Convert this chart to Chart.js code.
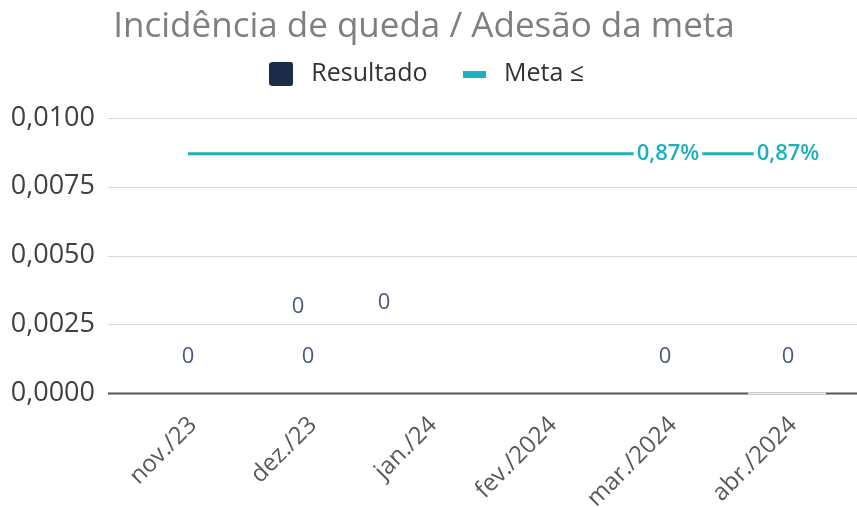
<!DOCTYPE html>
<html>
<head>
<meta charset="utf-8">
<script src="https://cdn.jsdelivr.net/npm/chart.js@4/dist/chart.umd.min.js"></script>
<style>
  html, body { margin: 0; padding: 0; background: #fff; }
  #wrap { width: 857px; height: 507px; }
</style>
</head>
<body>
<div id="wrap"><canvas id="chart" width="857" height="507"></canvas></div>
<script>
// dados
const categorias = ['nov./23', 'dez./23', 'jan./24', 'fev./2024', 'mar./2024', 'abr./2024'];
const resultado = [0, 0, 0, 0, 0, 0];
const meta = [0.0087, 0.0087, 0.0087, 0.0087, 0.0087, 0.0087];
const yTicks = [0, 0.0025, 0.005, 0.0075, 0.01];

const NAVY = '#1c2b48';
const TEAL = '#1cb0bd';
const FONT = "'Open Sans', sans-serif";

// marcadores da legenda
function marker(w, h, draw) {
  const c = document.createElement('canvas');
  c.width = w; c.height = h;
  draw(c.getContext('2d'));
  return c;
}
const boxResultado = marker(24, 24, g => { g.fillStyle = NAVY; g.beginPath(); g.roundRect(0, 0, 24, 24, 3); g.fill(); });
const boxMeta = marker(23, 7, g => { g.fillStyle = TEAL; g.fillRect(0, 0, 23, 7); });

// rótulos "0" do Resultado (deslocamentos por categoria)
const rotulosZero = [[[0, -36]], [[0, -36], [-10, -86]], [[-44, -90]], [], [[-3, -36]], [[0, -36]]];

const labelsPlugin = {
  id: 'rotulos',
  afterDatasetsDraw(chart) {
    const { ctx, scales: { x, y } } = chart;
    ctx.save();
    ctx.textAlign = 'center';
    ctx.textBaseline = 'middle';
    // Resultado
    ctx.font = '22px ' + FONT;
    ctx.fillStyle = '#4a5a78';
    resultado.forEach((v, i) => {
      rotulosZero[i].forEach(([dx, dy]) => {
        ctx.fillText(String(v), x.getPixelForValue(i) + dx, y.getPixelForValue(v) + dy);
      });
    });
    // Meta: só os dois últimos
    ctx.font = '600 22px ' + FONT;
    [4, 5].forEach(i => {
      const txt = (meta[i] * 100).toFixed(2).replace('.', ',') + '%';
      const px = x.getPixelForValue(i), py = y.getPixelForValue(meta[i]);
      const w = ctx.measureText(txt).width;
      ctx.fillStyle = '#fff';
      ctx.fillRect(px - w / 2 - 3, py - 11, w + 6, 22);
      ctx.fillStyle = TEAL;
      ctx.fillText(txt, px, py);
    });
    ctx.restore();
  }
};

// linhas de grade até a borda direita
const gradePlugin = {
  id: 'grade',
  beforeDatasetsDraw(chart) {
    const { ctx, scales: { x, y }, chartArea } = chart;
    ctx.save();
    yTicks.forEach(t => {
      const py = Math.round(y.getPixelForValue(t)) + 0.5;
      ctx.strokeStyle = t === 0 ? '#555' : '#d9d9d9';
      ctx.lineWidth = t === 0 ? 2 : 1;
      ctx.beginPath();
      ctx.moveTo(chartArea.left - 20, py);
      ctx.lineTo(chart.width, py);
      ctx.stroke();
    });
    // a última barra (valor 0) cobre a linha de base em branco
    const bar = chart.getDatasetMeta(1).data[resultado.length - 1];
    if (bar) {
      const py = Math.round(y.getPixelForValue(0)) + 0.5;
      ctx.strokeStyle = '#eeeeee';
      ctx.lineWidth = 2;
      ctx.beginPath();
      ctx.moveTo(bar.x - 40, py);
      ctx.lineTo(bar.x + 38, py);
      ctx.stroke();
    }
    ctx.restore();
  }
};

new Chart(document.getElementById('chart').getContext('2d'), {
  data: {
    labels: categorias,
    datasets: [
      {
        type: 'line',
        label: 'Meta ≤',
        data: meta,
        borderColor: TEAL,
        backgroundColor: TEAL,
        borderWidth: 3,
        pointRadius: 0,
        order: 0
      },
      {
        type: 'bar',
        label: 'Resultado',
        data: resultado,
        backgroundColor: NAVY,
        order: 1
      }
    ]
  },
  options: {
    responsive: false,
    animation: false,
    layout: { padding: { left: 0, right: 9, top: 0, bottom: 0 } },
    scales: {
      x: {
        grid: { display: false, drawTicks: false },
        border: { display: false },
        afterFit: s => { s.height = 114; },
        ticks: {
          color: '#595959',
          font: { family: FONT, size: 24 },
          maxRotation: 45,
          minRotation: 45,
          padding: 18,
          labelOffset: 5
        }
      },
      y: {
        min: 0,
        max: 0.01,
        afterBuildTicks: s => { s.ticks = yTicks.map(v => ({ value: v })); },
        afterFit: s => { s.width = 128; },
        grid: { display: false, drawTicks: false },
        border: { display: false },
        ticks: {
          color: '#404040',
          padding: 33,
          font: { family: FONT, size: 27 },
          callback: v => Number(v).toFixed(4).replace('.', ',')
        }
      }
    },
    plugins: {
      title: {
        display: true,
        text: 'Incidência de queda / Adesão da meta',
        color: '#7f7f7f',
        font: { family: FONT, size: 35, weight: 'normal' },
        padding: { top: 6, bottom: -15.5 }
      },
      subtitle: {
        // espaço vazio entre a legenda e o gráfico
        display: true,
        text: ' ',
        weight: 500,
        font: { size: 10 },
        padding: { top: 0, bottom: 9.5 }
      },
      legend: {
        labels: {
          color: '#333',
          font: { family: FONT, size: 25 },
          usePointStyle: true,
          pointStyleWidth: 35,
          padding: 29,
          generateLabels: chart => [
            { text: 'Resultado', pointStyle: boxResultado, datasetIndex: 1, fontColor: '#333', lineWidth: 0, strokeStyle: 'transparent' },
            { text: 'Meta ≤', pointStyle: boxMeta, datasetIndex: 0, fontColor: '#333', lineWidth: 0, strokeStyle: 'transparent' }
          ]
        }
      },
      tooltip: { enabled: false }
    }
  },
  plugins: [gradePlugin, labelsPlugin]
});
</script>
</body>
</html>
